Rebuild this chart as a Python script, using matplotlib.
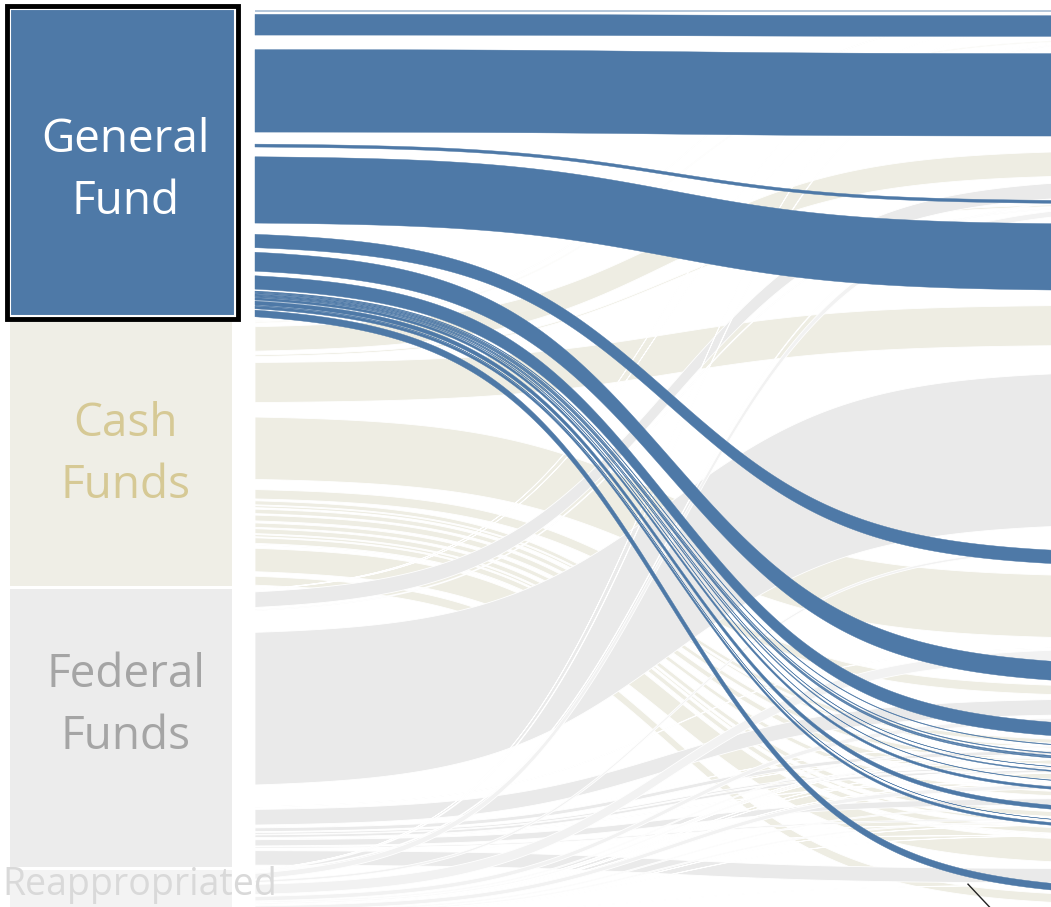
import numpy as np
import matplotlib.pyplot as plt
from matplotlib.patches import Rectangle, Polygon

plt.rcParams['font.family'] = ['Open Sans', 'DejaVu Sans']

# fund sources (left column), top to bottom
sources = ["General\nFund", "Cash\nFunds", "Federal\nFunds", "Reappropriated"]

# departments (right column, cut off past the right edge), top to bottom
departments = ["Agriculture", "Corrections", "Education", "Governor",
               "Health Care Policy & Financing", "Higher Education", "Human Services",
               "Judicial", "Labor & Employment", "Law", "Legislature", "Local Affairs",
               "Military & Veterans Affairs", "Natural Resources", "Personnel",
               "Public Health & Environment", "Public Safety", "Regulatory Agencies",
               "Revenue", "State", "Transportation", "Treasury"]

# $ millions, one value per department
general_fund = [15, 930, 3700, 130, 2975, 600, 850, 600, 25, 25, 50, 45, 12, 45, 18,
                110, 180, 5, 120, 0, 0, 300]
cash_funds = [38, 50, 1100, 75, 1800, 2800, 420, 180, 90, 20, 0, 200, 2, 260, 20,
              200, 220, 95, 250, 30, 1050, 400]
federal_funds = [5, 3, 700, 40, 6850, 25, 700, 4, 170, 2, 0, 80, 120, 30, 0,
                 280, 60, 2, 1, 0, 650, 0]
reappropriated = [3, 40, 40, 260, 105, 450, 200, 50, 10, 50, 2, 10, 1, 8, 190,
                  50, 50, 5, 10, 0, 5, 0]

# layout / style
M_PER_PX = 35.0          # $M per pixel
TOP_PX = 11
NODE_GAP = 3 * M_PER_PX
BAND = 0.78              # share of each slot that the ribbon fills
X_NODE = (10, 235)
X_FLOW0, X_FLOW1 = 255, 1085
STEEP = 4.5
node_colors = ['#4e79a7', '#efeee6', '#ececec', '#f3f3f3']
flow_colors = ['#4e79a7', '#eeede3', '#eaeaea', '#f2f2f2']
label_colors = ['white', '#d6c995', '#a5a5a5', '#d9d9d9']
label_y_px = [171, 455, 706, 885]

values = np.array([general_fund, cash_funds, federal_funds, reappropriated], dtype=float)
n_src, n_dep = values.shape

# left: each source stacked by department; right: each department stacked by source
left_top = np.zeros_like(values)
node_spans = []
y = 0.0
for i in range(n_src):
    start = y
    for j in range(n_dep):
        left_top[i, j] = y
        y += values[i, j]
    node_spans.append((start, y))
    y += NODE_GAP

right_top = np.zeros_like(values)
y = 0.0
for j in range(n_dep):
    for i in range(n_src):
        right_top[i, j] = y
        y += values[i, j]

fig = plt.figure(figsize=(10.51, 9.07), dpi=100)
ax = fig.add_axes([0, 0, 1, 1])
ax.set_xlim(0, 1051)
ax.set_ylim((907 - TOP_PX) * M_PER_PX, -TOP_PX * M_PER_PX)
ax.axis('off')


def px(v):
    return (v - TOP_PX) * M_PER_PX


xs = np.linspace(X_FLOW0, X_FLOW1, 200)
t = (xs - X_FLOW0) / (X_FLOW1 - X_FLOW0)
s = 1 / (1 + np.exp(-(2 * STEEP * t - STEEP)))
s = (s - s[0]) / (s[-1] - s[0])

# light ribbons first, highlighted general fund last
for i in [1, 2, 3, 0]:
    for j in range(n_dep):
        v = values[i, j]
        if v <= 0:
            continue
        m = (1 - BAND) / 2 * v
        top = (left_top[i, j] + m) + (right_top[i, j] - left_top[i, j]) * s
        bot = (left_top[i, j] + v - m) + (right_top[i, j] - left_top[i, j]) * s
        verts = np.concatenate([np.column_stack([xs, top]), np.column_stack([xs[::-1], bot[::-1]])])
        if i == 0:
            ax.add_patch(Polygon(verts, closed=True, facecolor=flow_colors[i],
                                 edgecolor=flow_colors[i], linewidth=0.3, zorder=2))
        else:
            ax.add_patch(Polygon(verts, closed=True, facecolor=flow_colors[i],
                                 edgecolor='white', linewidth=0.6, zorder=1))

# source nodes
for i, (a, b) in enumerate(node_spans):
    if i == 0:
        ax.add_patch(Rectangle((X_NODE[0], a - 2 * M_PER_PX), X_NODE[1] - X_NODE[0], b - a,
                               facecolor=node_colors[i], edgecolor='white', linewidth=1.5, zorder=3))
        ax.add_patch(Rectangle((X_NODE[0] - 3, a - 5 * M_PER_PX), X_NODE[1] - X_NODE[0] + 6,
                               b - a + 6 * M_PER_PX, facecolor='none', edgecolor='black',
                               linewidth=3.5, zorder=4))
    else:
        ax.add_patch(Rectangle((X_NODE[0], a), X_NODE[1] - X_NODE[0] - 3, b - a,
                               facecolor=node_colors[i], edgecolor='none', zorder=3))
    if i == 3:
        ax.text(140, px(label_y_px[i]), sources[i], color=label_colors[i], fontsize=27,
                ha='center', va='center', zorder=5)
    else:
        ax.text((X_NODE[0] + X_NODE[1]) / 2 + 3, px(label_y_px[i]), sources[i],
                color=label_colors[i], fontsize=33, ha='center', va='center',
                linespacing=1.45, zorder=5)

# callout leader at the bottom right
j = departments.index("Treasury")
ax.plot([968, 1000], [right_top[0, j] - 1 * M_PER_PX, right_top[0, j] + 33 * M_PER_PX],
        color='#222222', linewidth=1, zorder=6)

fig.savefig('out.png', dpi=100)
